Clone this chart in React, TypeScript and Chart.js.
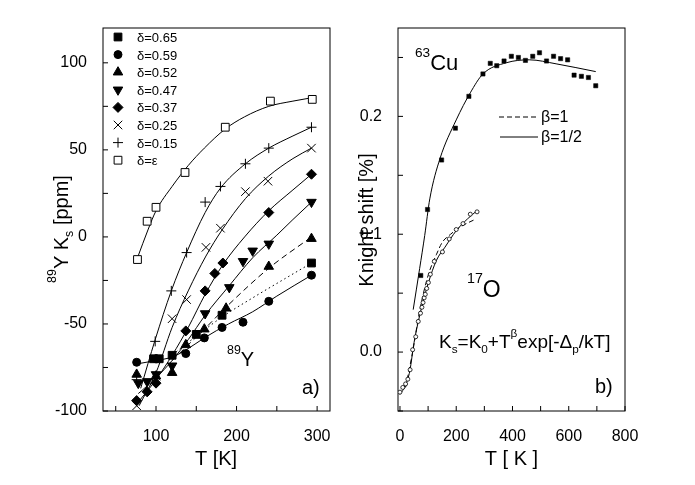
import React, { useEffect, useRef } from 'react';
import { Chart, registerables } from 'chart.js';
import { drawPoint } from 'chart.js/helpers';

Chart.register(...registerables);

const FONT = '"Liberation Sans", Arial, Helvetica, sans-serif';
Chart.defaults.font.family = FONT;
Chart.defaults.color = '#000';

// ---------- panel a) : 89Y Knight shift, [T (K), Ks (ppm)]
const y065 = [[97, -70], [104, -70], [120, -68], [150, -56], [182, -45], [293, -15]];
const y059 = [[76, -72], [100, -70], [137, -67], [160, -58], [182, -52], [208, -49], [240, -37], [293, -22]];
const y052 = [[76, -79], [100, -80], [120, -78], [137, -62], [160, -53], [187, -41], [240, -17], [293, -1]];
const y047 = [[78, -84], [89, -83], [100, -79], [120, -74], [161, -44], [191, -29], [208, -14], [220, -8], [240, -4], [293, 20]];
const y037 = [[76, -94], [89, -89], [100, -84], [137, -54], [161, -31], [173, -21], [183, -15], [240, 14], [293, 36]];
const y025 = [[76, -97], [100, -80], [120, -47], [138, -36], [162, -6], [180, 5], [211, 26], [239, 32], [293, 51]];
const y015 = [[76, -82], [99, -60], [119, -31], [138, -9], [161, 20], [180, 29], [211, 42], [240, 51], [293, 63]];
const yEps = [[77, -13], [89, 9], [100, 17], [136, 37], [186, 63], [242, 78], [294, 79]];

// fitted curves
const fit059 = [[76, -73], [100, -71], [120, -69], [137, -65], [160, -58], [190, -50], [220, -43], [250, -34], [293, -22]];
const fit065 = [[125, -66], [150, -57], [182, -46], [220, -35], [260, -24], [293, -15]];
const fit052 = [[120, -71], [140, -62], [160, -53], [190, -39], [240, -18], [293, 0]];
const fit047 = [[78, -90], [100, -81], [120, -71], [140, -59], [161, -45], [191, -28], [220, -12], [250, 1], [270, 10], [293, 20]];
const fit037 = [[76, -96], [100, -82], [120, -68], [140, -52], [161, -33], [183, -16], [210, 0], [240, 15], [270, 27], [293, 36]];
const fit025 = [[79, -97], [100, -78], [120, -52], [140, -31], [162, -11], [182, 4], [211, 22], [240, 35], [270, 45], [293, 51]];
const fit015 = [[81, -87], [99, -59], [119, -31], [138, -9], [161, 14], [180, 28], [211, 42], [240, 51], [270, 58], [293, 63]];
const fitEps = [[77, -12], [90, 4], [100, 15], [120, 29], [140, 41], [160, 51], [186, 62], [210, 69], [240, 75], [270, 78], [294, 80]];

const ticksAx = [50, 100, 150, 200, 250, 300];
const labelsAx = [100, 200, 300];
const ticksAy = [-100, -75, -50, -25, 0, 25, 50, 75, 100];
const labelsAy = [-100, -50, 0, 50, 100];

// ---------- panel b) : Knight shift (%), [T (K), K (%)]
const cuPts = [[74, 0.065], [98, 0.121], [148, 0.163], [197, 0.19], [245, 0.217], [295, 0.236], [321, 0.245], [344, 0.243],
  [370, 0.247], [396, 0.251], [421, 0.25], [446, 0.2475], [472, 0.251], [496, 0.254], [521, 0.247], [546, 0.251],
  [571, 0.249], [596, 0.248], [619, 0.235], [645, 0.234], [670, 0.233], [696, 0.226]];
const oPts = [[0, -0.034], [10, -0.03], [20, -0.027], [28, -0.023], [36, -0.015], [45, 0.002], [56, 0.013], [65, 0.026],
  [73, 0.033], [78, 0.038], [82, 0.042], [86, 0.046], [90, 0.049], [95, 0.054], [101, 0.059], [108, 0.066],
  [122, 0.077], [151, 0.085], [175, 0.096], [200, 0.104], [224, 0.109], [250, 0.117], [274, 0.119]];
const cuFit = [[47, 0.036], [70, 0.071], [88, 0.099], [106, 0.13], [142, 0.164], [200, 0.197], [250, 0.22], [295, 0.236],
  [378, 0.2455], [460, 0.248], [555, 0.2446], [696, 0.238]];
const oFitHalf = [[0, -0.036], [20, -0.028], [35, -0.016], [50, 0.008], [70, 0.031], [100, 0.058], [130, 0.078],
  [160, 0.089], [200, 0.103], [240, 0.113], [274, 0.12]];
const oFitOne = [[20, -0.03], [45, 0.0], [70, 0.035], [100, 0.065], [130, 0.083], [150, 0.093], [180, 0.1], [220, 0.107], [262, 0.112]];

const ticksBx = [0, 100, 200, 300, 400, 500, 600, 700, 800];
const labelsBx = [0, 200, 400, 600, 800];
const ticksBy = [-0.05, 0, 0.05, 0.1, 0.15, 0.2, 0.25];
const labelsBy = [0, 0.1, 0.2];

const xy = (pts: number[][]) => pts.map(([x, y]) => ({ x, y }));

const seriesA = [
  { label: 'δ=0.65', data: y065, style: 'rect', r: 5.5, rot: 0, open: false },
  { label: 'δ=0.59', data: y059, style: 'circle', r: 4, rot: 0, open: false },
  { label: 'δ=0.52', data: y052, style: 'triangle', r: 5.5, rot: 0, open: false },
  { label: 'δ=0.47', data: y047, style: 'triangle', r: 5.5, rot: 180, open: false },
  { label: 'δ=0.37', data: y037, style: 'rectRot', r: 5, rot: 0, open: false },
  { label: 'δ=0.25', data: y025, style: 'crossRot', r: 6, rot: 0, open: true },
  { label: 'δ=0.15', data: y015, style: 'cross', r: 5, rot: 0, open: true },
  { label: 'δ=ε', data: yEps, style: 'rect', r: 5.5, rot: 0, open: true },
];
const fitsA = [
  { data: fit059, dash: [] },
  { data: fit065, dash: [1.5, 3] },
  { data: fit052, dash: [6, 4] },
  { data: fit047, dash: [] },
  { data: fit037, dash: [] },
  { data: fit025, dash: [] },
  { data: fit015, dash: [] },
  { data: fitEps, dash: [] },
];

type Seg = [string, number?];
function drawRich(ctx: CanvasRenderingContext2D, segs: Seg[], x: number, y: number, size: number, center = false) {
  const parts = segs.map(([t, k = 0]) => {
    const fs = k ? size * 0.62 : size;
    ctx.font = `${fs}px ${FONT}`;
    return { t, k, fs, w: ctx.measureText(t).width };
  });
  const total = parts.reduce((a, p) => a + p.w, 0);
  let cx = center ? x - total / 2 : x;
  ctx.textAlign = 'left';
  ctx.textBaseline = 'alphabetic';
  ctx.fillStyle = '#000';
  parts.forEach((p) => {
    ctx.font = `${p.fs}px ${FONT}`;
    const dy = p.k > 0 ? -size * 0.6 : p.k < 0 ? size * 0.25 : 0;
    ctx.fillText(p.t, cx, y + dy);
    cx += p.w;
  });
}

function drawVertical(ctx: CanvasRenderingContext2D, segs: Seg[], x: number, y: number, size: number) {
  ctx.save();
  ctx.translate(x, y);
  ctx.rotate(-Math.PI / 2);
  drawRich(ctx, segs, 0, 0, size, true);
  ctx.restore();
}

// box round the plot with inward tick marks
const framePlugin = {
  id: 'frame',
  beforeDatasetsDraw(chart: any) {
    const { ctx, chartArea: a, scales } = chart;
    ctx.save();
    ctx.strokeStyle = '#000';
    ctx.lineWidth = 1;
    ctx.strokeRect(a.left, a.top, a.right - a.left, a.bottom - a.top);
    ctx.beginPath();
    scales.x.ticks.forEach((t: any) => {
      const px = scales.x.getPixelForValue(t.value);
      ctx.moveTo(px, a.bottom);
      ctx.lineTo(px, a.bottom - 5);
    });
    scales.y.ticks.forEach((t: any) => {
      const py = scales.y.getPixelForValue(t.value);
      ctx.moveTo(a.left, py);
      ctx.lineTo(a.left + 5, py);
    });
    ctx.stroke();
    ctx.restore();
  },
};

const textA = {
  id: 'textA',
  afterDraw(chart: any) {
    const ctx: CanvasRenderingContext2D = chart.ctx;
    ctx.save();
    drawVertical(ctx, [['89', 1], ['Y K'], ['s', -1], [' [ppm]']], 68, 229, 20);
    drawRich(ctx, [['T [K]']], 216, 465, 20, true);
    drawRich(ctx, [['a)']], 302, 394, 20);
    drawRich(ctx, [['89', 1], ['Y']], 227, 366, 20);
    seriesA.forEach((s, i) => {
      const y = 37 + i * 17.6;
      ctx.fillStyle = s.open ? '#fff' : '#000';
      ctx.strokeStyle = '#000';
      drawPoint(ctx, { pointStyle: s.style as any, rotation: s.rot, radius: s.r, borderWidth: 1 }, 118, y);
      drawRich(ctx, [[s.label]], 137, y + 5, 13);
    });
    ctx.restore();
  },
};

const textB = {
  id: 'textB',
  afterDraw(chart: any) {
    const ctx: CanvasRenderingContext2D = chart.ctx;
    ctx.save();
    drawVertical(ctx, [['Knight shift [%]']], 373, 220, 20);
    drawRich(ctx, [['T [ K ]']], 511.5, 465, 20, true);
    drawRich(ctx, [['63', 1], ['Cu']], 415, 70, 22);
    drawRich(ctx, [['17', 1], ['O']], 467, 297, 23);
    drawRich(ctx, [['K'], ['s', -1], ['=K'], ['0', -1], ['+T'], ['β', 1], ['exp[-Δ'], ['p', -1], ['/kT]']], 439, 348, 19);
    drawRich(ctx, [['b)']], 595, 393, 20);
    ctx.strokeStyle = '#000';
    ctx.lineWidth = 1;
    ctx.setLineDash([5, 3]);
    ctx.beginPath();
    ctx.moveTo(499, 117);
    ctx.lineTo(538, 117);
    ctx.stroke();
    ctx.setLineDash([]);
    ctx.beginPath();
    ctx.moveTo(500, 137);
    ctx.lineTo(538, 137);
    ctx.stroke();
    drawRich(ctx, [['β=1']], 541, 122, 16);
    drawRich(ctx, [['β=1/2']], 541, 142, 16);
    ctx.restore();
  },
};

const near = (v: number, list: number[]) => list.some((l) => Math.abs(l - v) < 1e-6);

function axis(min: number, max: number, ticks: number[], labels: number[], fmt: (v: number) => string, fit: (s: any) => void) {
  return {
    type: 'linear' as const,
    min,
    max,
    grid: { display: false },
    border: { display: false },
    afterBuildTicks: (s: any) => { s.ticks = ticks.map((v) => ({ value: v })); },
    afterFit: fit,
    ticks: {
      autoSkip: false,
      maxRotation: 0,
      padding: 8,
      font: { size: 16 },
      color: '#000',
      callback: (v: any) => (near(Number(v), labels) ? fmt(Number(v)) : ''),
    },
  };
}

const fitLine = (data: number[][], dash: number[]) => ({
  type: 'scatter' as const,
  data: xy(data),
  showLine: true,
  pointRadius: 0,
  borderColor: '#000',
  borderWidth: 1,
  borderDash: dash,
  cubicInterpolationMode: 'monotone' as const,
  fill: false,
});

export default function App() {
  const refA = useRef<HTMLCanvasElement>(null);
  const refB = useRef<HTMLCanvasElement>(null);

  useEffect(() => {
    const chartA = new Chart(refA.current!, {
      type: 'scatter',
      data: {
        datasets: [
          ...seriesA.map((s) => ({
            data: xy(s.data),
            pointStyle: s.style as any,
            pointRotation: s.rot,
            pointRadius: s.r,
            pointBorderWidth: 1,
            pointBorderColor: '#000',
            pointBackgroundColor: s.open ? '#fff' : '#000',
          })),
          ...fitsA.map((f) => fitLine(f.data, f.dash)),
        ],
      },
      options: {
        responsive: false,
        animation: false,
        events: [],
        layout: { padding: { left: 0, right: 365, top: 28, bottom: 0 } },
        plugins: { legend: { display: false }, tooltip: { enabled: false } },
        scales: {
          x: axis(34.2, 316, ticksAx, labelsAx, (v) => String(v), (s) => { s.height = 74; }),
          y: axis(-100, 120, ticksAy, labelsAy, (v) => String(v), (s) => { s.width = 103; }),
        },
      },
      plugins: [framePlugin, textA],
    });

    const chartB = new Chart(refB.current!, {
      type: 'scatter',
      data: {
        datasets: [
          {
            data: xy(cuPts),
            pointStyle: 'rect',
            pointRadius: 3,
            pointBorderWidth: 0.5,
            pointBorderColor: '#000',
            pointBackgroundColor: '#000',
          },
          {
            data: xy(oPts),
            pointStyle: 'circle',
            pointRadius: 2,
            pointBorderWidth: 0.8,
            pointBorderColor: '#000',
            pointBackgroundColor: '#fff',
          },
          fitLine(cuFit, []),
          fitLine(oFitHalf, []),
          fitLine(oFitOne, [5, 3]),
        ],
      },
      options: {
        responsive: false,
        animation: false,
        events: [],
        layout: { padding: { left: 340, right: 70, top: 28, bottom: 0 } },
        plugins: { legend: { display: false }, tooltip: { enabled: false } },
        scales: {
          x: axis(-7, 800, ticksBx, labelsBx, (v) => String(v), (s) => { s.height = 74; }),
          y: axis(-0.05, 0.275, ticksBy, labelsBy, (v) => v.toFixed(1), (s) => { s.width = 58; }),
        },
      },
      plugins: [framePlugin, textB],
    });

    return () => {
      chartA.destroy();
      chartB.destroy();
    };
  }, []);

  const canvasStyle: React.CSSProperties = { position: 'absolute', left: 0, top: 0, width: 695, height: 485 };
  return (
    <div style={{ position: 'fixed', left: 0, top: 0, width: 695, height: 485, background: '#fff' }}>
      <canvas ref={refA} width={695} height={485} style={canvasStyle} />
      <canvas ref={refB} width={695} height={485} style={canvasStyle} />
    </div>
  );
}
